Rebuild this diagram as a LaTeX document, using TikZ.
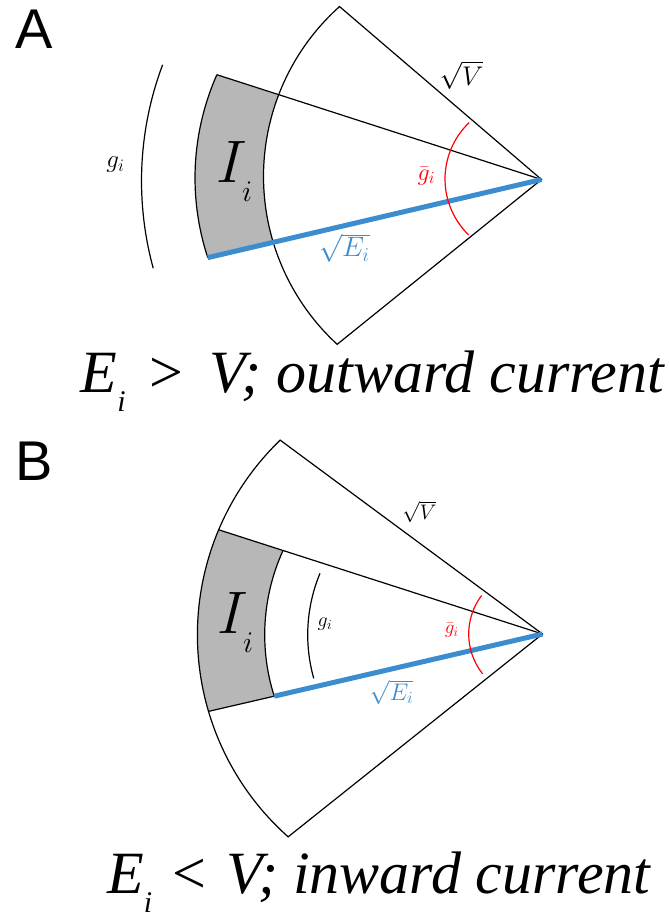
\documentclass[tikz,border=0pt]{standalone}
\usepackage{fix-cm}
\usepackage[no-math]{fontspec}
\newfontfamily\capfont{Liberation Serif}
\newfontfamily\tagfont{Liberation Sans}
\definecolor{shellgray}{RGB}{183,183,183}
\definecolor{potblue}{RGB}{60,141,207}
\definecolor{condred}{RGB}{255,0,0}
\newcommand{\lblsize}[1]{\fontsize{#1}{#1}\selectfont}
\tikzset{
  rim/.style={draw=black,line width=1.2pt},
  shell/.style={fill=shellgray},
  potline/.style={draw=potblue,line width=5pt},
  condarc/.style={draw=condred,line width=1.2pt},
  lbl/.style={inner sep=0pt},
  paneltag/.style={anchor=base west,inner sep=0pt,font=\tagfont\lblsize{56}},
  capline/.style={anchor=base west,inner sep=0pt,font=\capfont\lblsize{60}}
}

\begin{document}
\begin{tikzpicture}[x=1pt,y=-1pt]
  \useasboundingbox (0,0) rectangle (669,922);
  % panel A: outward current
  \coordinate (apexA) at (541.5,179.5);
  \coordinate (rimcA) at (491.5,176.5);
  \coordinate (shellcA) at (450,178);
  \coordinate (gcA) at (472,181);
  \coordinate (redcA) at (523,179);
  \path (shellcA) ++(203.9:255) coordinate (tlA);
  \path (shellcA) ++(161.8:255) coordinate (blA);
  \path (rimcA) ++(200.85:228) coordinate (trA);
  \path (rimcA) ++(132.6:228) coordinate (botA);
  \fill[shell] (tlA) -- (trA) arc[start angle=200.85,end angle=163.2,radius=228]
    -- (blA) arc[start angle=161.8,end angle=203.9,radius=255] -- cycle;
  \draw[rim] (apexA) -- (botA) arc[start angle=132.6,end angle=228.2,radius=228] -- cycle;
  \draw[rim] (blA) arc[start angle=161.8,end angle=203.9,radius=255];
  \draw[rim] (tlA) -- (apexA);
  \draw[potline] (blA) -- (apexA);
  \draw[rim] (gcA) ++(164.7:330.5) arc[start angle=164.7,end angle=200.6,radius=330.5];
  \draw[condarc] (redcA) ++(134.3:78) arc[start angle=134.3,end angle=226.3,radius=78];
  \node[paneltag] (tagA) at (15,48.3) {A};
  \node[lbl,font=\lblsize{25}] (giA) at (115.5,164.5) {$g_i$};
  \node[lbl,font=\lblsize{27}] (sqvA) at (461.5,75) {$\sqrt{V}$};
  \node[lbl,font=\lblsize{24},text=condred] (gbarA) at (426.3,176) {$\bar{g}_i$};
  \node[lbl,font=\lblsize{28},text=potblue] (sqeA) at (344.2,248) {$\sqrt{E_i}$};
  \node[lbl,anchor=base west,font=\lblsize{60}] (curA) at (216,182.7) {$I_{\lower10pt\hbox{$\scriptscriptstyle i$}}$};
  \node[capline] (capA) at (80.5,392.7) {\textit{E}\lower19pt\hbox{\lblsize{30}\textit{i}}\hspace{24pt}>\hspace{26pt}\textit{V; outward current}};
  % panel B: inward current
  \coordinate (apexB) at (542.5,634);
  \coordinate (rimcB) at (467.7,634.8);
  \coordinate (redcB) at (532.7,634);
  \path (rimcB) ++(202.87:270.3) coordinate (tlB);
  \path (rimcB) ++(204.53:203) coordinate (trB);
  \path (rimcB) ++(162.4:203) coordinate (brB);
  \path (rimcB) ++(163.54:270.3) coordinate (blB);
  \path (rimcB) ++(131.63:270.3) coordinate (botB);
  \fill[shell] (tlB) -- (trB) arc[start angle=204.53,end angle=162.4,radius=203]
    -- (blB) arc[start angle=163.54,end angle=202.87,radius=270.3] -- cycle;
  \draw[rim] (apexB) -- (botB) arc[start angle=131.63,end angle=226.07,radius=270.3] -- cycle;
  \draw[rim] (trB) arc[start angle=204.53,end angle=162.4,radius=203];
  \draw[rim] (tlB) -- (apexB);
  \draw[rim] (blB) -- (brB);
  \draw[potline] (brB) -- (apexB);
  \draw[rim] (rimcB) ++(164.2:160) arc[start angle=164.2,end angle=202.6,radius=160];
  \draw[condarc] (redcB) ++(141.5:64) arc[start angle=141.5,end angle=217,radius=64];
  \node[paneltag] (tagB) at (15,480) {B};
  \node[lbl,font=\lblsize{21}] (sqvB) at (419.3,511.7) {$\sqrt{V}$};
  \node[lbl,font=\lblsize{20}] (giB) at (325,624) {$g_i$};
  \node[lbl,font=\lblsize{19},text=condred] (gbarB) at (451.7,630) {$\bar{g}_i$};
  \node[lbl,font=\lblsize{24},text=potblue] (sqeB) at (391.5,692.5) {$\sqrt{E_i}$};
  \node[lbl,anchor=base west,font=\lblsize{60}] (curB) at (217,633.3) {$I_{\lower10pt\hbox{$\scriptscriptstyle i$}}$};
  \node[capline] (capB) at (107,893) {\textit{E}\lower19pt\hbox{\lblsize{30}\textit{i}}\hspace{20pt}<\hspace{20pt}\textit{V; inward current}};
\end{tikzpicture}
\end{document}
